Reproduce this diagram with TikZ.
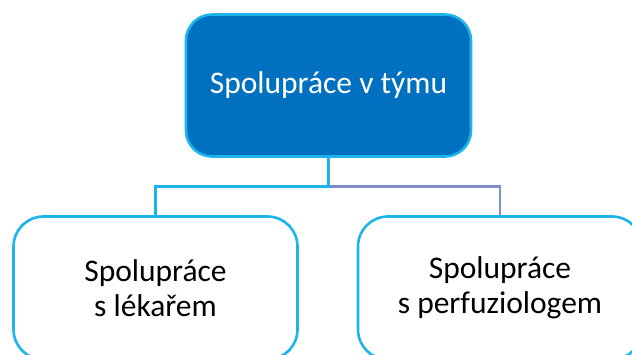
\documentclass[tikz,border=0pt]{standalone}
\usepackage{fontspec}
\setmainfont{Carlito}
\definecolor{bordblue}{HTML}{1CB4EB}
\definecolor{topfill}{HTML}{0070C0}
\definecolor{linkpurple}{HTML}{7D8ECB}
\tikzset{
  topbox/.style={draw=bordblue, fill=topfill, line width=2.6pt, rounded corners=26pt,
    minimum width=285pt, minimum height=142pt, text=white, align=center, inner sep=0pt,
    font=\fontsize{31.5}{35}\selectfont},
  subbox/.style={draw=bordblue, fill=white, line width=2.6pt, rounded corners=30pt,
    minimum width=284pt, minimum height=143pt, text=black, align=center, inner sep=0pt,
    font=\fontsize{31.5}{35}\selectfont},
  link/.style={line width=2.4pt}
}
\begin{document}
\begin{tikzpicture}[x=1pt,y=-1pt]
\path[use as bounding box] (0,0) rectangle (632,355);
\clip (0,0) rectangle (632,355);
\node[topbox] (top) at (328.5,85.5) {Spolupráce v týmu};
\node[subbox] (left) at (155.5,288) {Spolupráce\\s lékařem};
\node[subbox] (right) at (500,288) {Spolupráce\\s perfuziologem};
\coordinate (mid) at (328.5,186.5);
\draw[link, draw=linkpurple] (mid) -| (right.north);
\draw[link, draw=bordblue] (top.south) -- (mid) -| (left.north);
\end{tikzpicture}
\end{document}
